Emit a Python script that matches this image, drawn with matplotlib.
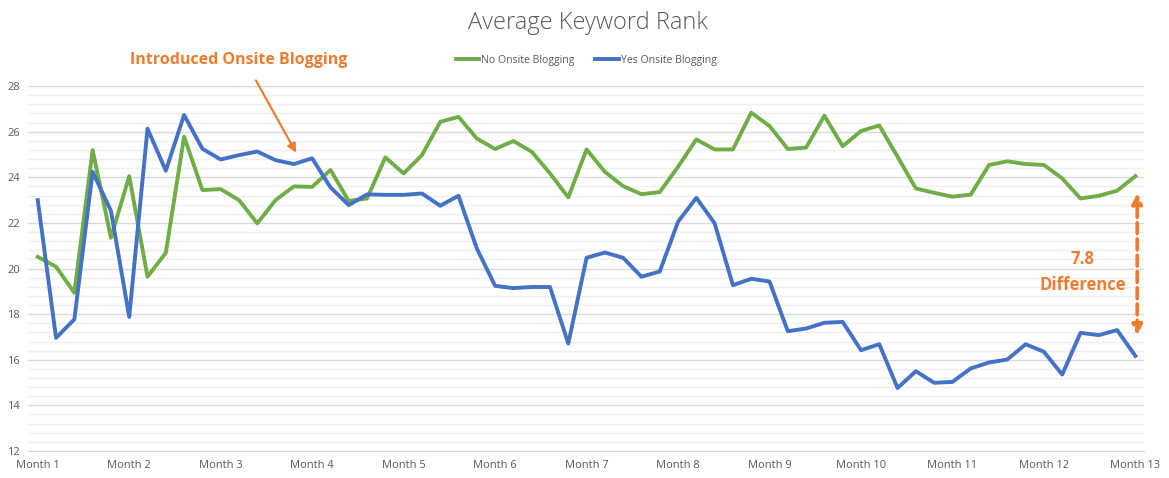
import matplotlib.pyplot as plt
import numpy as np
from matplotlib.ticker import MultipleLocator

# weekly points, 5 per month, Month 1 .. Month 13
months = ["Month %d" % m for m in range(1, 14)]
no_blogging = [20.51, 20.08, 18.94, 25.19, 21.35, 24.05, 19.64, 20.69, 25.78, 23.44,
               23.48, 23.00, 21.98, 23.00, 23.60, 23.58, 24.32, 22.96, 23.07, 24.87,
               24.17, 24.97, 26.43, 26.65, 25.70, 25.24, 25.59, 25.12, 24.17, 23.12,
               25.22, 24.24, 23.61, 23.26, 23.35, 24.46, 25.66, 25.22, 25.22, 26.83,
               26.25, 25.24, 25.30, 26.70, 25.36, 26.03, 26.27, 24.90, 23.51, 23.32,
               23.15, 23.24, 24.54, 24.70, 24.58, 24.54, 23.95, 23.07, 23.19, 23.41,
               24.05]
yes_blogging = [23.00, 16.96, 17.77, 24.24, 22.53, 17.88, 26.13, 24.29, 26.73, 25.25,
                24.78, 24.97, 25.13, 24.75, 24.58, 24.83, 23.56, 22.78, 23.25, 23.23,
                23.23, 23.29, 22.75, 23.19, 20.88, 19.24, 19.14, 19.19, 19.19, 16.71,
                20.47, 20.70, 20.47, 19.64, 19.87, 22.05, 23.10, 21.98, 19.27, 19.55,
                19.43, 17.25, 17.37, 17.62, 17.66, 16.42, 16.68, 14.76, 15.50, 14.99,
                15.03, 15.62, 15.88, 16.01, 16.68, 16.35, 15.35, 17.18, 17.08, 17.30,
                16.17]

GREEN = "#70AD47"
BLUE = "#4472C4"
ORANGE = "#ED7D31"
GREY = "#595959"

plt.rcParams['font.family'] = ['Open Sans', 'DejaVu Sans']

fig = plt.figure(figsize=(11.69, 4.78), dpi=100)
ax = fig.add_axes([0.024, 0.0565, 0.9546, 0.7635])

x = np.arange(len(no_blogging))
ax.plot(x, no_blogging, color=GREEN, lw=2.8, label="No Onsite Blogging", solid_joinstyle='round')
ax.plot(x, yes_blogging, color=BLUE, lw=2.8, label="Yes Onsite Blogging", solid_joinstyle='round')

ax.set_xlim(-0.53, 60.47)
ax.set_ylim(12, 28)
ax.set_xticks(np.arange(0, 61, 5))
ax.set_xticklabels(months)
ax.yaxis.set_major_locator(MultipleLocator(2))
ax.yaxis.set_minor_locator(MultipleLocator(0.4))
ax.grid(which='major', axis='y', color="#D9D9D9", lw=1)
ax.grid(which='minor', axis='y', color="#EFEFEF", lw=1)
ax.set_axisbelow(True)
for s in ['top', 'right', 'left']:
    ax.spines[s].set_visible(False)
ax.spines['bottom'].set_color("#D9D9D9")
ax.tick_params(axis='both', which='both', length=0, colors=GREY, labelsize=8)
ax.tick_params(axis='y', pad=6)
ax.tick_params(axis='x', pad=6.5)

fig.text(0.503, 0.952, "Average Keyword Rank", ha='center', va='center',
         fontsize=17, color=GREY, fontweight='light')
ax.legend(loc='center', bbox_to_anchor=(0.5, 1.071), ncol=2, frameon=False,
          fontsize=7.6, labelcolor=GREY, handlelength=2.2, handletextpad=0.2, columnspacing=2.0)

# annotations
ax.text(11.0, 29.14, "Introduced Onsite Blogging", ha='center', va='center',
        fontsize=11.5, fontweight='bold', color=ORANGE)
ax.annotate("", xy=(14.2, 24.97), xytext=(11.85, 28.35), annotation_clip=False,
            arrowprops=dict(arrowstyle="-|>", color=ORANGE, lw=1.6, mutation_scale=13))
ax.annotate("", xy=(60.1, 23.3), xytext=(60.1, 17.08),
            arrowprops=dict(arrowstyle="<|-|>", color=ORANGE, lw=2.6, ls=(0, (3, 1.5)),
                            mutation_scale=15, shrinkA=0, shrinkB=0))
ax.text(57.1, 20.42, "7.8", ha='center', va='center', fontsize=12, fontweight='bold', color=ORANGE)
ax.text(57.1, 19.27, "Difference", ha='center', va='center', fontsize=12, fontweight='bold', color=ORANGE)

fig.savefig("out.png", dpi=100)
